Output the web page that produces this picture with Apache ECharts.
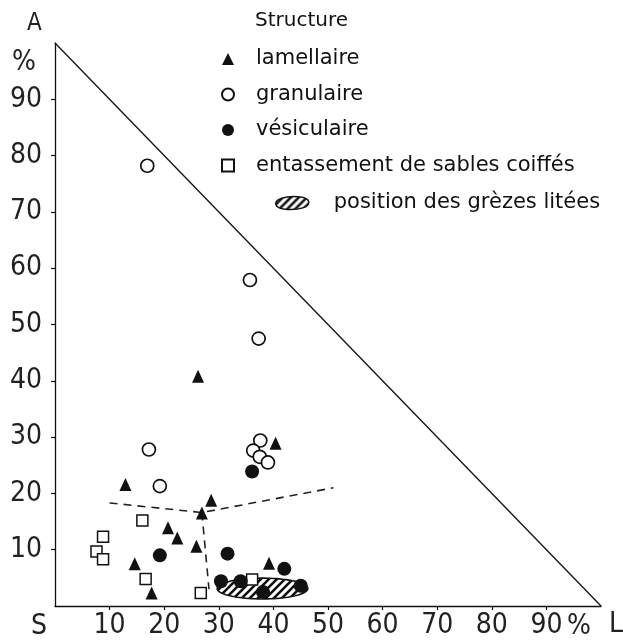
<!DOCTYPE html>
<html><head><meta charset="utf-8">
<script src="https://cdn.jsdelivr.net/npm/echarts@6/dist/echarts.min.js"></script>
<style>html,body{margin:0;padding:0;background:#fff}#c{width:623px;height:642px}</style>
</head><body><div id="c"></div>
<script>
// ---- data (percent: x = L, y = A) ----
const lamellaire = [[26.2,40.8],[12.9,21.6],[40.4,28.9],[28.6,18.8],[26.9,16.5],[20.7,13.9],[22.4,12.1],[25.9,10.6],[14.6,7.5],[17.7,2.3],[39.2,7.6]];
const granulaire = [[16.9,78.2],[35.7,57.9],[37.3,47.5],[17.2,27.8],[19.2,21.3],[37.6,29.4],[36.3,27.6],[37.5,26.5],[39.0,25.5]];
const vesiculaire = [[36.1,23.9],[19.2,9.0],[31.6,9.3],[42.0,6.6],[30.4,4.4],[34.0,4.4],[38.1,2.5],[45.0,3.6]];
const entassement = [[8.8,12.3],[7.6,9.7],[8.8,8.3],[16.0,15.2],[16.6,4.8],[26.7,2.3],[36.1,4.7]];
const grezesZone = [[38.0,3.1,8.3,1.85]]; // centre L, centre A, half-width, half-height
const limitLine = [[0,100],[100,0]];
const dashedBoundary = [[10.0,18.3],[26.9,16.6],[51.0,21.0]];
const dashedVertical = [[26.9,16.6],[28.2,3.0]];
const tickValues = [10,20,30,40,50,60,70,80,90];
const legendNames = ['lamellaire','granulaire','vésiculaire','entassement de sables coiffés'];
const zoneName = 'position des grèzes litées';

const INK = '#111';
const axisFont = "'Liberation Sans Narrow','DejaVu Sans Condensed',sans-serif";
const textFont = "'DejaVu Sans',sans-serif";

function hatchCanvas(){
  const s = 8, c = document.createElement('canvas');
  c.width = s; c.height = s;
  const g = c.getContext('2d');
  g.fillStyle = '#fff'; g.fillRect(0,0,s,s);
  g.strokeStyle = INK; g.lineWidth = 2.6; g.lineCap = 'square';
  g.beginPath();
  g.moveTo(-2,s+2); g.lineTo(s+2,-2);
  g.moveTo(-2,2); g.lineTo(2,-2);
  g.moveTo(s-2,s+2); g.lineTo(s+2,s-2);
  g.stroke();
  return c;
}
const hatch = {image: hatchCanvas(), repeat: 'repeat'};

const chart = echarts.init(document.getElementById('c'), null, {renderer:'canvas'});
const axisCommon = {
  type:'value', min:0, max:100, interval:10,
  splitLine:{show:false},
  axisLine:{show:true, lineStyle:{color:INK, width:1.3}},
  axisTick:{show:true, inside:false, length:4, customValues:tickValues, lineStyle:{color:INK, width:1.2}},
  axisLabel:{customValues:tickValues, color:'#222', fontFamily:axisFont, fontSize:28}
};
chart.setOption({
  animation:false,
  backgroundColor:'#fff',
  grid:{left:55, right:22, top:43, bottom:36, containLabel:false},
  title:{text:'Structure', left:255, top:11, padding:0,
    textStyle:{fontFamily:textFont, fontSize:20, fontWeight:'normal', color:INK}},
  legend:[{
    data:legendNames, orient:'vertical', left:221, top:48, padding:0,
    itemWidth:12, itemHeight:12, itemGap:13.5,
    textStyle:{fontFamily:textFont, fontSize:21, lineHeight:22, color:INK, padding:[0,0,0,17]},
    selectedMode:false
  },{
    data:[{name:zoneName, icon:'path://M0,7 C0,2 10,0 18,0 C27,0 33,2 33,6 C33,11 23,13 15,13 C6,13 0,11 0,7 Z',
      itemStyle:{color:hatch, borderColor:INK, borderWidth:1.5}}],
    orient:'vertical', left:275, top:192, padding:0,
    itemWidth:33, itemHeight:13,
    textStyle:{fontFamily:textFont, fontSize:21, lineHeight:22, color:INK, padding:[0,0,0,20]},
    selectedMode:false
  }],
  xAxis:Object.assign({}, axisCommon, {axisLabel:Object.assign({}, axisCommon.axisLabel, {margin:6})}),
  yAxis:Object.assign({}, axisCommon, {axisLabel:Object.assign({}, axisCommon.axisLabel, {margin:13})}),
  graphic:[
    {type:'text', left:27, top:12, style:{text:'A', font:"24px "+axisFont, fill:'#222'}},
    {type:'text', left:12, top:49, style:{text:'%', font:"28px "+axisFont, fill:'#222'}},
    {type:'text', left:31, top:613, style:{text:'S', font:"28px "+axisFont, fill:'#222'}},
    {type:'text', left:567, top:613, style:{text:'%', font:"28px "+axisFont, fill:'#222'}},
    {type:'text', left:609, top:611, style:{text:'L', font:"28px "+axisFont, fill:'#222'}}
  ],
  series:[
    {type:'line', name:'limit', data:limitLine, symbol:'none', silent:true, z:1,
     lineStyle:{color:INK, width:1.3}},
    {type:'line', name:'dashA', data:dashedBoundary, symbol:'none', silent:true, z:1,
     lineStyle:{color:'#222', width:1.6, type:[8,6]}},
    {type:'line', name:'dashB', data:dashedVertical, symbol:'none', silent:true, z:1,
     lineStyle:{color:'#222', width:1.6, type:[8,6]}},
    {type:'custom', name:zoneName, data:grezesZone, z:2, silent:true,
     encode:{x:0, y:1},
     renderItem:function(params, api){
       const c = api.coord([api.value(0), api.value(1)]);
       const sz = api.size([api.value(2), api.value(3)]);
       const pts = [];
       for (let i=0;i<90;i++){ const t=i/90*2*Math.PI; pts.push([c[0]+sz[0]*Math.cos(t), c[1]+sz[1]*Math.sin(t)]); }
       return {type:'polygon', shape:{points:pts}, style:{fill:hatch, stroke:INK, lineWidth:1.6}};
     }},
    {type:'scatter', name:'entassement de sables coiffés', data:entassement, symbol:'rect', symbolSize:11, z:3,
     itemStyle:{color:'#fff', borderColor:INK, borderWidth:1.5, opacity:1}},
    {type:'scatter', name:'granulaire', data:granulaire, symbol:'circle', symbolSize:13, z:3,
     itemStyle:{color:'#fff', borderColor:INK, borderWidth:1.7, opacity:1}},
    {type:'scatter', name:'vésiculaire', data:vesiculaire, symbol:'circle', symbolSize:14, z:4,
     itemStyle:{color:INK, opacity:1}},
    {type:'scatter', name:'lamellaire', data:lamellaire, symbol:'triangle', symbolSize:[12,13], z:4,
     itemStyle:{color:INK, opacity:1}}
  ]
});
</script></body></html>
